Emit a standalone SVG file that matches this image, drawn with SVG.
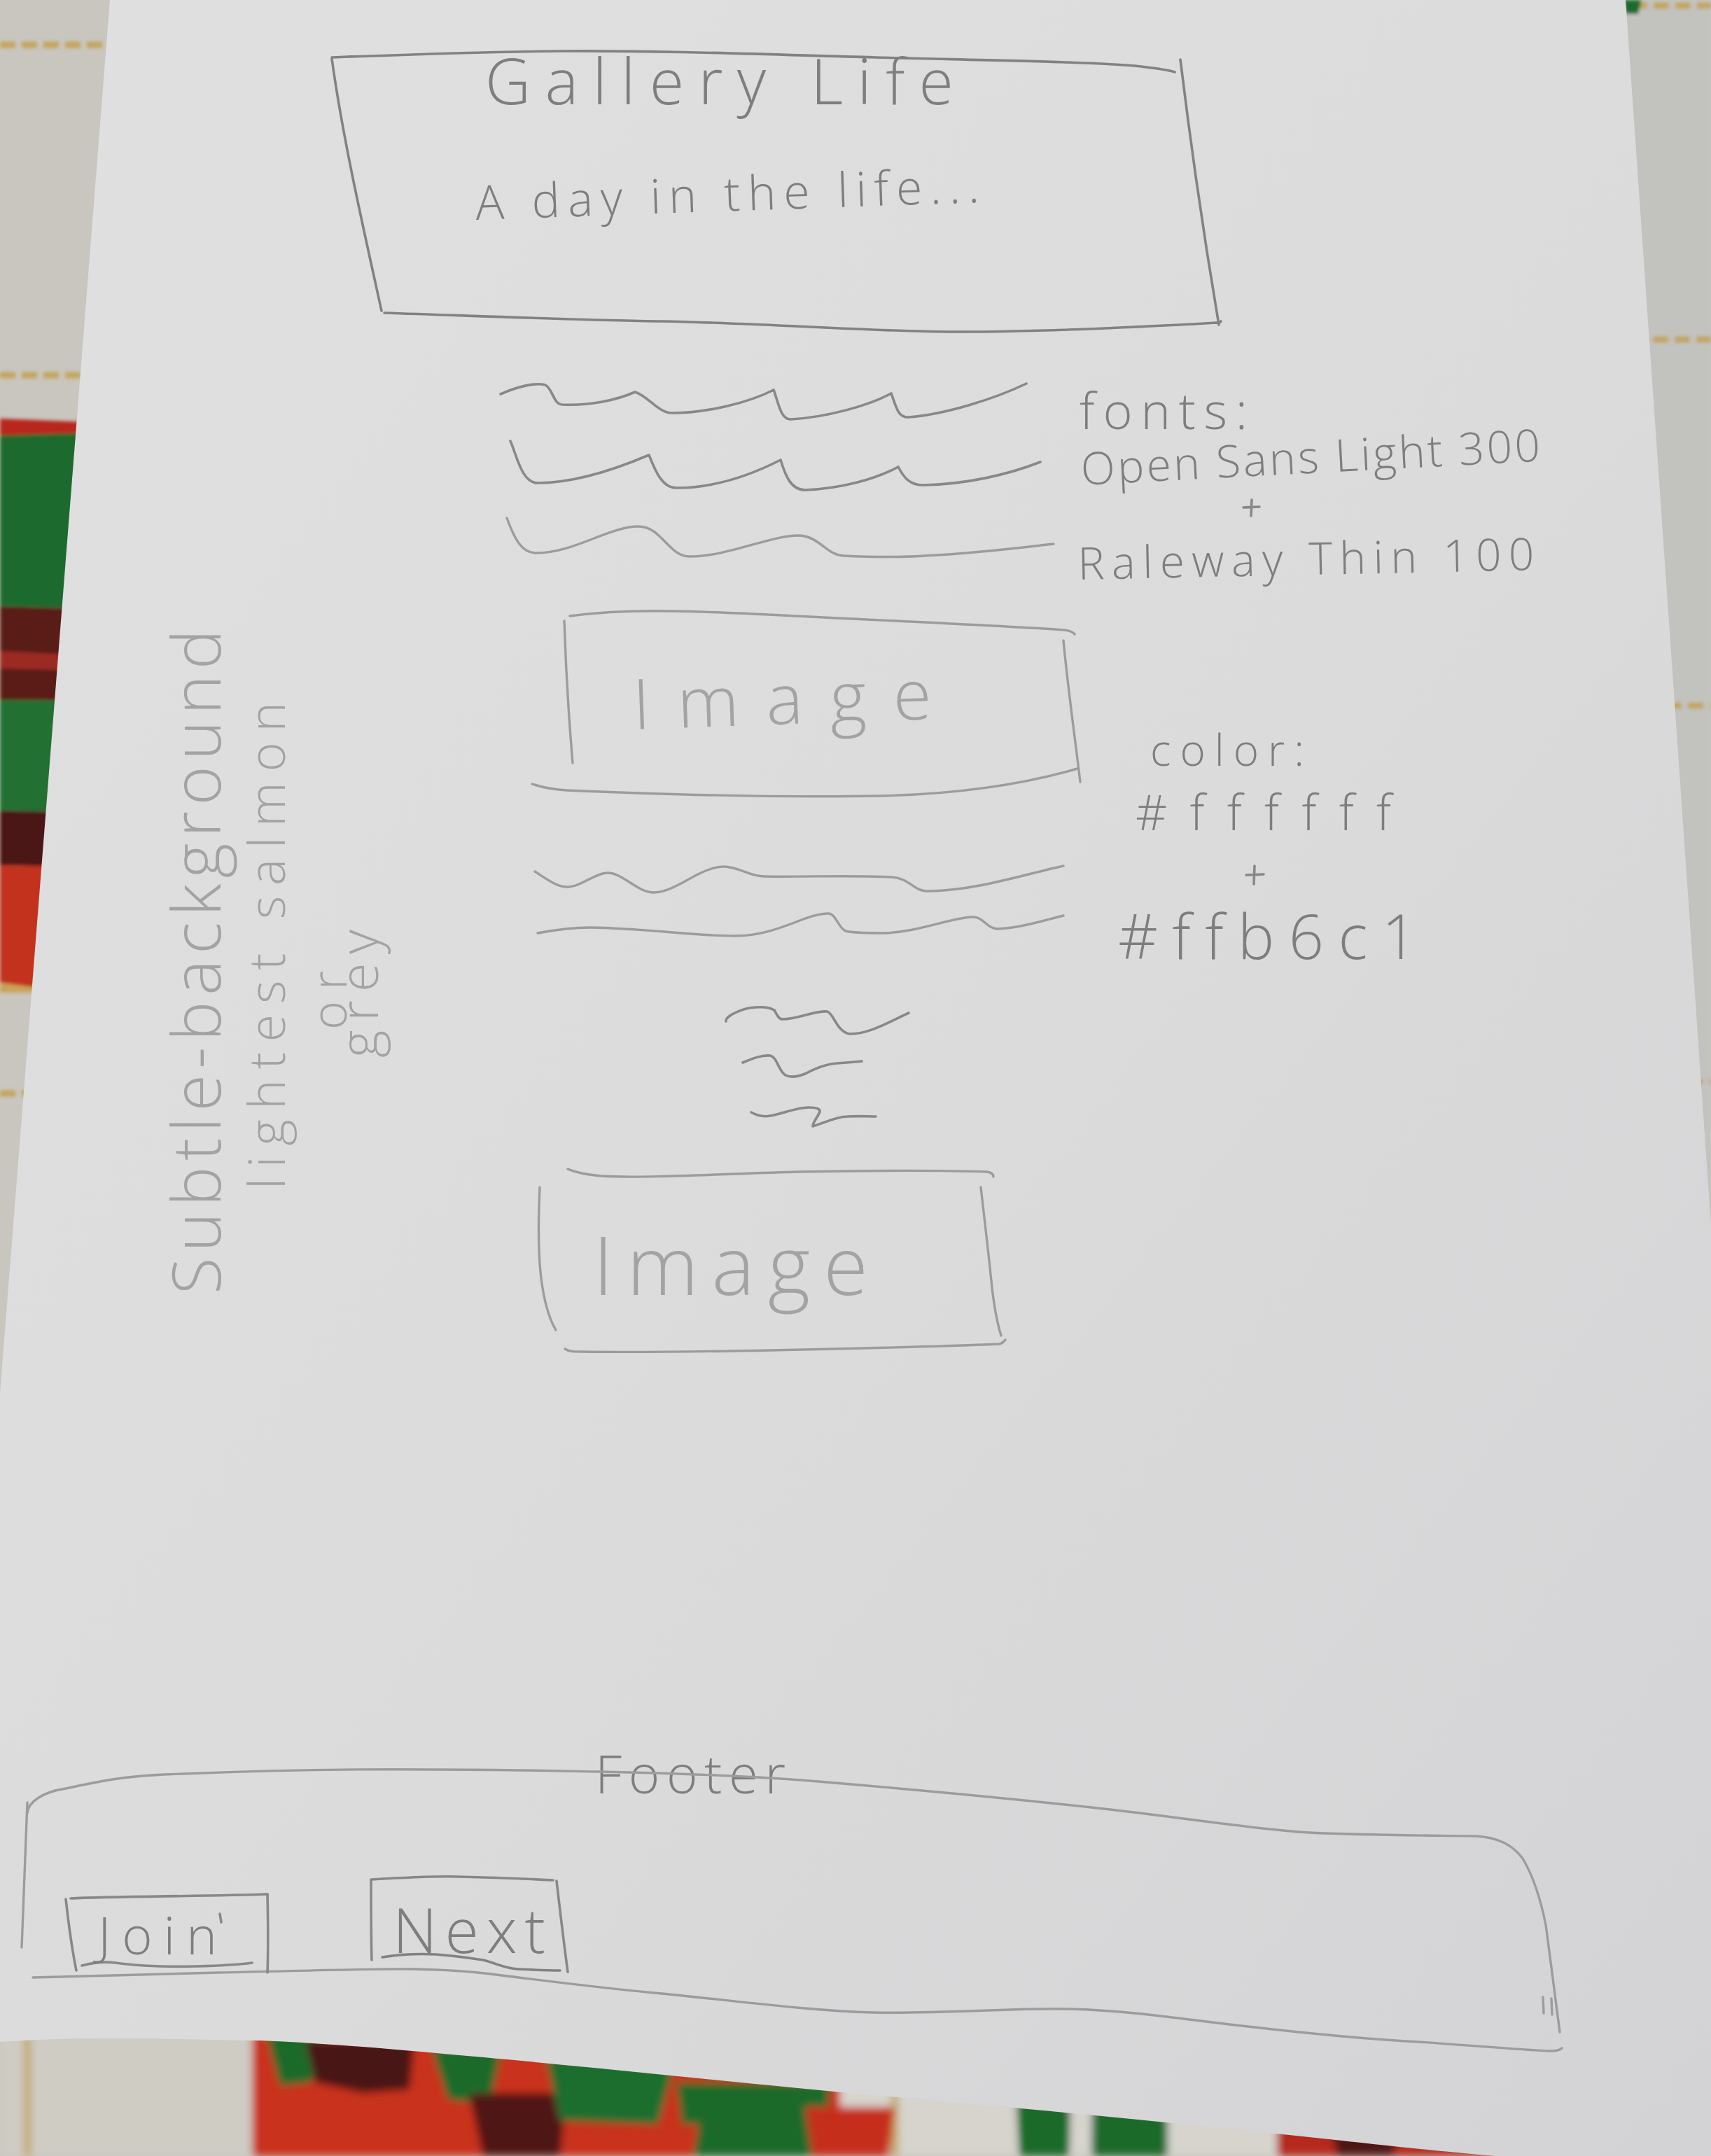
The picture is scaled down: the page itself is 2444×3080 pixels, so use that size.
<svg xmlns="http://www.w3.org/2000/svg" width="2444" height="3080" viewBox="0 0 2444 3080">
  <defs>
    <linearGradient id="paperShade" x1="0" y1="0" x2="1" y2="1">
      <stop offset="0" stop-color="#e0e0e1"/>
      <stop offset="0.55" stop-color="#dbdbdc"/>
      <stop offset="1" stop-color="#d3d3d5"/>
    </linearGradient>
    <filter id="soft" x="-5%" y="-5%" width="110%" height="110%">
      <feGaussianBlur stdDeviation="2.5"/>
    </filter>
    <filter id="softer" x="-5%" y="-20%" width="110%" height="140%">
      <feGaussianBlur stdDeviation="6"/>
    </filter>
  </defs>
  <style>
    .pencil { fill: none; stroke: #888888; stroke-width: 3.6; stroke-linecap: round; stroke-linejoin: round; }
    .dark { stroke: #828282; }
    .faint { stroke: #9c9c9c; stroke-width: 3.4; }
    .hand { font-family: "Open Sans", "Lato", "Liberation Sans", sans-serif; font-weight: 300; fill: #7e7e7e; font-variant-ligatures: none; font-feature-settings: "liga" 0, "clig" 0; }
    .hand-faint { fill: #a3a3a3; }
    .dash { fill: none; stroke: #c3a55c; stroke-width: 9; stroke-dasharray: 22 9; }
  </style>

  <!-- tablecloth showing around the sheet -->
  <g id="tablecloth">
    <rect x="0" y="0" width="2444" height="3080" fill="#c8c6bf"/>
    <g filter="url(#soft)">
      <rect x="2200" y="0" width="244" height="1900" fill="#c2c2bf"/>
      <!-- left strip -->
      <path class="dash" d="M0,64 L170,64 M0,536 L150,536 M0,1562 L80,1562"/>
      <path d="M0,598 L200,606 L200,630 L0,626 Z" fill="#b8281d"/>
      <path d="M0,622 L200,616 L200,872 L0,866 Z" fill="#1e6a2d"/>
      <path d="M0,866 L200,872 L200,1002 L0,1000 Z" fill="#5a1a18"/>
      <path d="M0,930 L200,940 L200,960 L0,955 Z" fill="#9b2b22"/>
      <path d="M0,1000 L200,1002 L200,1162 L0,1158 Z" fill="#226f30"/>
      <path d="M0,1158 L200,1162 L200,1240 L0,1236 Z" fill="#4c1616"/>
      <path d="M0,1236 L200,1240 L200,1402 L60,1412 L0,1404 Z" fill="#c3301f"/>
      <path d="M0,1404 L60,1412 L200,1402 L200,1418 L0,1418 Z" fill="#c9a356"/>
      <!-- right strip -->
      <path class="dash" d="M2300,8 L2444,8 M2330,485 L2444,485 M2380,1008 L2444,1008 M2410,1545 L2444,1545"/>
      <path d="M2318,0 L2345,0 L2340,20 L2322,20 Z" fill="#1e6a2d"/>
    </g>
    <!-- bottom band -->
    <g filter="url(#softer)">
      <rect x="0" y="2890" width="380" height="190" fill="#cfccc4"/>
      <path d="M34,2890 L44,2890 L44,3080 L34,3080 Z" fill="#c3a55c"/>
      <path d="M360,2900 L1200,2900 L1200,3080 L360,3080 Z" fill="#c9321f"/>
      <path d="M380,2905 L460,2905 L445,2975 L400,2980 Z" fill="#1c6b2b"/>
      <path d="M436,2915 L592,2915 L585,2985 L520,2990 L450,2975 Z" fill="#4a1414"/>
      <path d="M616,2925 L717,2925 L700,3005 L640,3000 Z" fill="#1c6b2b"/>
      <path d="M670,2990 L810,2990 L800,3080 L690,3080 Z" fill="#4f1616"/>
      <path d="M780,2940 L966,2940 L940,3035 L800,3030 Z" fill="#1f6e2e"/>
      <path d="M966,2975 L1185,2975 L1180,3080 L980,3080 Z" fill="#1c6b2b"/>
      <path d="M873,3035 L998,3035 L990,3080 L880,3080 Z" fill="#c9321f"/>
      <path d="M1200,2960 L1450,2960 L1450,3080 L1200,3080 Z" fill="#d6d4cd"/>
      <path d="M1273,2960 L1283,2960 L1283,3080 L1273,3080 Z" fill="#c3a55c"/>
      <path d="M1150,3010 L1278,3010 L1270,3080 L1160,3080 Z" fill="#c62e1e"/>
      <path d="M1450,2970 L1530,2975 L1527,3080 L1457,3080 Z" fill="#1c6b2b"/>
      <path d="M1530,2975 L1560,2975 L1560,3080 L1530,3080 Z" fill="#d6d4cd"/>
      <path d="M1560,2990 L1668,2995 L1668,3080 L1559,3080 Z" fill="#1c6b2b"/>
      <path d="M1668,2995 L1824,3010 L1824,3080 L1668,3080 Z" fill="#d6d4cd"/>
      <path d="M1824,3010 L2200,3040 L2200,3080 L1824,3080 Z" fill="#b52a1e"/>
      <path d="M1900,3030 L2000,3035 L1990,3080 L1910,3080 Z" fill="#4f1616"/>
    </g>
  </g>

  <!-- the sheet of paper -->
  <path id="paper" d="M157,0 L2322,0 L2444,1750 L2444,3080 L2135,3080 C2000,3068 1900,3056 1870,3053 C1700,3035 1500,3015 1247,2993 C1050,2975 800,2948 623,2933 C500,2922 400,2915 358,2915 C250,2913 170,2911 120,2912 C60,2913 20,2916 0,2917 L0,1990 Z" fill="url(#paperShade)"/>

  <!-- header block -->
  <g id="header">
    <path class="pencil dark" d="M474,82 C580,78 680,74 800,73 C950,72 1100,78 1250,82 C1400,86 1560,88 1630,95 C1655,98 1670,100 1678,103"/>
    <path class="pencil dark" d="M1686,85 C1700,200 1720,340 1741,464"/>
    <path class="pencil dark" d="M474,84 C490,200 520,330 545,444"/>
    <path class="pencil dark" d="M549,447 C700,452 850,458 945,459 C1100,462 1250,474 1366,474 C1500,474 1650,466 1737,461 C1740,461 1742,462 1744,459"/>
    <text class="hand" x="693" y="149" font-size="90" textLength="669" lengthAdjust="spacing">Gallery Life</text>
    <text class="hand" x="680" y="314" font-size="68" textLength="720" lengthAdjust="spacing" transform="rotate(-2 680 314)">A day in the life...</text>
  </g>

  <!-- first paragraph of text lines -->
  <g id="text-lines-1">
    <path class="pencil" d="M715,563 C740,552 765,546 779,550 C790,556 790,577 803,578 C840,580 880,572 907,560 C925,565 940,590 960,590 C1010,590 1070,575 1105,557 C1112,575 1115,600 1130,599 C1180,596 1240,580 1273,562 C1280,580 1282,597 1298,596 C1350,592 1420,570 1466,548"/>
    <path class="pencil" d="M729,630 C738,650 745,690 768,690 C820,690 880,670 927,650 C935,670 945,697 966,697 C1020,697 1070,680 1115,657 C1122,680 1130,700 1150,700 C1200,698 1250,685 1283,667 C1290,680 1298,693 1318,693 C1380,692 1440,678 1486,660"/>
    <path class="pencil faint" d="M724,740 C735,770 745,790 766,790 C820,790 870,752 912,752 C945,752 955,795 985,795 C1040,795 1100,765 1140,765 C1170,765 1180,793 1205,794 C1250,796 1290,796 1320,794 C1400,790 1460,782 1505,777"/>
  </g>

  <!-- font notes -->
  <g id="font-notes">
    <text class="hand" x="1542" y="613" font-size="72" textLength="240" lengthAdjust="spacing">fonts:</text>
    <text class="hand" x="1545" y="693" font-size="64" textLength="657" lengthAdjust="spacing" transform="rotate(-3 1545 693)">Open Sans Light 300</text>
    <path class="pencil" d="M1776,725 L1799,724 M1788,714 L1787,737"/>
    <text class="hand" x="1540" y="828" font-size="64" textLength="652" lengthAdjust="spacing" transform="rotate(-1.2 1540 828)">Raleway Thin 100</text>
  </g>

  <!-- first image placeholder -->
  <g id="image-1">
    <path class="pencil faint" d="M814,880 C860,874 910,872 959,873 C1030,874 1100,878 1175,882 C1300,888 1450,895 1520,900 C1528,901 1533,903 1535,906"/>
    <path class="pencil faint" d="M806,887 C808,950 812,1020 818,1090"/>
    <path class="pencil faint" d="M1519,915 C1525,980 1535,1050 1543,1117"/>
    <path class="pencil faint" d="M760,1120 C775,1125 790,1128 810,1129 C950,1135 1100,1140 1257,1137 C1380,1134 1470,1118 1539,1098"/>
    <text class="hand hand-faint" x="905" y="1042" font-size="100" textLength="427" lengthAdjust="spacing" transform="rotate(-2 905 1042)">Image</text>
  </g>

  <!-- colour notes -->
  <g id="color-notes">
    <text class="hand" x="1643" y="1094" font-size="62" textLength="220" lengthAdjust="spacing">color:</text>
    <text class="hand" x="1622" y="1186" font-size="70" textLength="365" lengthAdjust="spacing">#ffffff</text>
    <path class="pencil" d="M1780,1250 L1805,1249 M1792,1237 L1791,1263"/>
    <text class="hand" x="1597" y="1370" font-size="88" textLength="427" lengthAdjust="spacing">#ffb6c1</text>
  </g>

  <!-- second paragraph of text lines -->
  <g id="text-lines-2">
    <path class="pencil faint" d="M764,1245 C780,1255 795,1267 810,1267 C830,1267 850,1247 868,1247 C890,1247 910,1275 934,1275 C965,1275 1000,1238 1034,1238 C1055,1238 1070,1252 1092,1252 C1150,1253 1220,1250 1274,1253 C1300,1255 1305,1273 1324,1273 C1390,1273 1460,1250 1519,1237"/>
    <path class="pencil faint" d="M768,1333 C795,1328 820,1325 843,1325 C920,1326 990,1337 1050,1337 C1110,1337 1150,1305 1183,1305 C1195,1305 1198,1330 1212,1331 C1230,1333 1245,1333 1258,1333 C1310,1333 1360,1310 1390,1310 C1405,1310 1410,1327 1425,1327 C1460,1325 1490,1315 1519,1308"/>
  </g>

  <!-- short text lines -->
  <g id="text-lines-3">
    <path class="pencil" d="M1037,1459 C1035,1452 1060,1440 1079,1439 C1095,1438 1100,1440 1106,1443 C1110,1450 1112,1456 1118,1456 C1140,1456 1165,1443 1182,1445 C1192,1450 1195,1473 1213,1477 C1240,1478 1270,1460 1298,1447"/>
    <path class="pencil" d="M1061,1518 C1075,1512 1088,1507 1100,1508 C1110,1510 1112,1530 1122,1536 C1130,1540 1140,1538 1150,1534 C1165,1526 1180,1520 1195,1519 C1210,1518 1222,1517 1231,1516"/>
    <path class="pencil" d="M1073,1589 C1082,1594 1090,1596 1100,1594 C1120,1590 1140,1582 1155,1582 C1165,1582 1172,1584 1171,1588 C1168,1596 1160,1605 1161,1609 C1175,1605 1195,1595 1210,1595 C1225,1594 1240,1595 1251,1595"/>
  </g>

  <!-- second image placeholder -->
  <g id="image-2">
    <path class="pencil faint" d="M811,1670 C825,1676 840,1678 860,1680 C920,1684 1050,1676 1142,1674 C1250,1672 1350,1672 1410,1674 C1416,1675 1419,1678 1419,1681"/>
    <path class="pencil faint" d="M771,1696 C769,1740 768,1800 775,1840 C780,1870 788,1890 794,1900"/>
    <path class="pencil faint" d="M1401,1696 C1406,1740 1412,1790 1416,1830 C1420,1870 1426,1895 1430,1908"/>
    <path class="pencil faint" d="M807,1927 C812,1930 815,1931 830,1931 C900,1932 1000,1931 1100,1929 C1250,1926 1380,1922 1427,1920 C1431,1919 1434,1917 1436,1914"/>
    <text class="hand hand-faint" x="847" y="1850" font-size="116" textLength="393" lengthAdjust="spacing">Image</text>
  </g>

  <!-- background note written sideways -->
  <g id="background-note">
    <text class="hand hand-faint" font-size="96" textLength="950" lengthAdjust="spacing" transform="translate(315 1849) rotate(-90)">Subtle-background</text>
    <text class="hand hand-faint" font-size="72" textLength="696" lengthAdjust="spacing" transform="translate(407 1699) rotate(-90)">lightest salmon</text>
    <text class="hand hand-faint" font-size="70" textLength="84" lengthAdjust="spacing" transform="translate(495 1471) rotate(-90)">or</text>
    <text class="hand hand-faint" font-size="76" textLength="183" lengthAdjust="spacing" transform="translate(540 1511) rotate(-90)">grey</text>
  </g>

  <!-- footer -->
  <g id="footer">
    <text class="hand" x="850" y="2562" font-size="76" textLength="272" lengthAdjust="spacing">Footer</text>
    <path class="pencil faint" d="M39,2590 C40,2575 60,2560 94,2555 C140,2545 180,2537 234,2535 C400,2528 520,2527 623,2528 C720,2528 800,2530 857,2531 C960,2533 1070,2537 1169,2545 C1300,2556 1430,2568 1559,2582 C1680,2595 1780,2612 1870,2618 C1950,2622 2050,2622 2108,2623 C2140,2625 2160,2635 2175,2655 C2190,2680 2200,2710 2208,2750 C2215,2800 2222,2860 2228,2903"/>
    <path class="pencil faint" d="M39,2575 C36,2650 33,2720 31,2782"/>
    <path class="pencil faint" d="M47,2825 C150,2822 250,2819 312,2818 C450,2815 540,2812 592,2813 C640,2814 670,2816 701,2820 C780,2830 860,2840 935,2847 C1050,2858 1150,2872 1247,2875 C1350,2877 1450,2868 1528,2870 C1600,2872 1660,2880 1715,2887 C1820,2900 1930,2912 2026,2917 C2100,2922 2170,2928 2213,2930 C2222,2930 2228,2929 2231,2926"/>
    <path class="pencil faint" d="M2204,2853 L2205,2876 M2216,2855 L2217,2878"/>
  </g>

  <!-- Join button -->
  <g id="join-button">
    <path class="pencil" d="M101,2712 C160,2709 300,2709 382,2706"/>
    <path class="pencil" d="M94,2713 C98,2750 104,2790 109,2815"/>
    <path class="pencil" d="M382,2706 C383,2750 383,2790 382,2818"/>
    <path class="pencil" d="M117,2808 C135,2803 150,2802 165,2804 C200,2809 240,2810 281,2809 C320,2808 345,2806 360,2804"/>
    <text class="hand" x="140" y="2792" font-size="74" textLength="170" lengthAdjust="spacing">Join</text>
    <path class="pencil" d="M314,2734 L316,2746"/>
  </g>

  <!-- Next button -->
  <g id="next-button">
    <path class="pencil" d="M530,2685 C580,2682 620,2680 655,2681 C700,2682 750,2684 790,2686"/>
    <path class="pencil" d="M530,2686 C530,2730 530,2770 531,2800"/>
    <path class="pencil" d="M795,2687 C800,2730 806,2780 811,2817"/>
    <path class="pencil dark" stroke-width="5" d="M546,2796 C570,2792 600,2791 623,2792 C650,2794 670,2797 690,2800 C710,2805 720,2812 740,2813 C760,2814 780,2815 800,2815"/>
    <text class="hand" x="561" y="2790" font-size="88" textLength="218" lengthAdjust="spacing">Next</text>
  </g>
</svg>
